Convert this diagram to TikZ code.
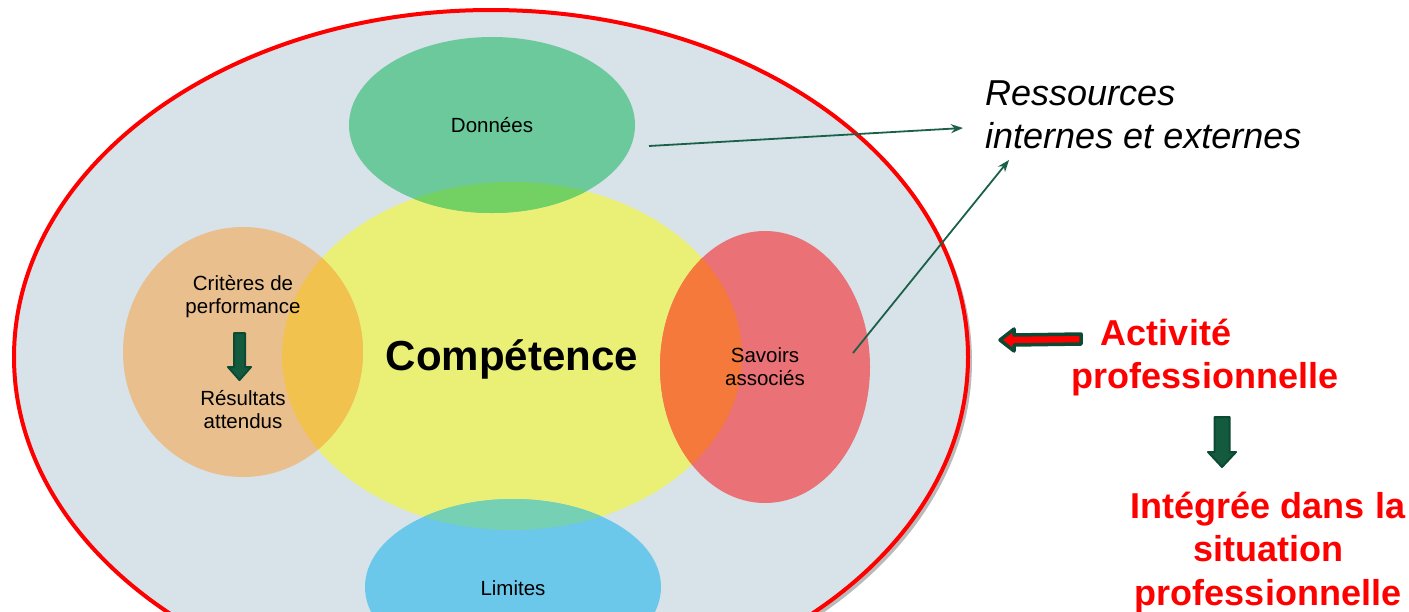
\documentclass[tikz,border=0pt]{standalone}
\usepackage{fontspec}
\setmainfont{Liberation Sans}
\usetikzlibrary{shadows,arrows.meta}
\definecolor{bgell}{HTML}{D7E2E9}
\definecolor{cdon}{HTML}{6BC99C}
\definecolor{cyel}{HTML}{EAEF76}
\definecolor{cora}{HTML}{EABF8E}
\definecolor{cpink}{HTML}{EA7175}
\definecolor{cblue}{HTML}{6CC8EA}
\definecolor{ovdon}{HTML}{73D063}
\definecolor{ovora}{HTML}{F2C24F}
\definecolor{ovsav}{HTML}{F4793A}
\definecolor{ovlim}{HTML}{76D0B3}
\definecolor{redline}{HTML}{FF0000}
\definecolor{conncol}{HTML}{1B6149}
\definecolor{darkgreen}{HTML}{0C4A33}
\definecolor{midgreen}{HTML}{145A3E}
\definecolor{redtext}{HTML}{FF0000}
\tikzset{
  small/.style={font=\fontsize{20.5}{22.5}\selectfont, align=center, inner sep=0pt},
  big/.style={font=\fontsize{42}{50}\selectfont\bfseries, inner sep=0pt},
  res/.style={font=\fontsize{36}{43}\selectfont\itshape, align=left, inner sep=0pt},
  redlab/.style={font=\fontsize{36}{43}\selectfont\bfseries, text=redtext, inner sep=0pt},
  conn/.style={draw=conncol, line width=1.8pt, -{Stealth[length=12pt,width=9pt]}},
  blockred/.style={draw=darkgreen, line width=3.5pt, fill=redline, line join=round},
  blockgreen/.style={draw=darkgreen, line width=2pt, fill=midgreen, line join=round},
}
\begin{document}
\begin{tikzpicture}[x=1pt,y=-1pt]
\useasboundingbox (0,0) rectangle (1409,611);
% outer ellipse
\fill[bgell, drop shadow={shadow xshift=4pt, shadow yshift=-4pt, opacity=0.45, fill=black!60}]
  (491,357) ellipse [x radius=477pt, y radius=347pt];
\draw[redline, line width=4pt] (491,357) ellipse [x radius=477pt, y radius=347pt];
% inner ellipses
\fill[cyel] (512,356) ellipse [x radius=230pt, y radius=174pt];
\fill[cdon] (492,125) ellipse [x radius=143pt, y radius=88pt];
\fill[cora] (243,352) ellipse [x radius=120pt, y radius=125pt];
\fill[cpink] (765,367) ellipse [x radius=105pt, y radius=136pt];
\fill[cblue] (513,587) ellipse [x radius=148pt, y radius=88pt];
% overlaps
\begin{scope}
  \clip (512,356) ellipse [x radius=230pt, y radius=174pt];
  \fill[ovdon] (492,125) ellipse [x radius=143pt, y radius=88pt];
  \fill[ovora] (243,352) ellipse [x radius=120pt, y radius=125pt];
  \fill[ovsav] (765,367) ellipse [x radius=105pt, y radius=136pt];
  \fill[ovlim] (513,587) ellipse [x radius=148pt, y radius=88pt];
\end{scope}
% texts (anchor=base = baseline of last line)
\node[small, anchor=base] (don) at (492,132) {Données};
\node[small, anchor=base] (lim) at (513,595) {Limites};
\node[small, anchor=base] (sav) at (765,385) {Savoirs\\associés};
\node[small, anchor=base] (cri) at (243,313) {Critères de\\performance};
\node[small, anchor=base] (resu) at (243,428) {Résultats\\attendus};
\node[big, anchor=base] (comp) at (512,370) {Compétence};
\node[res, anchor=base west] (ress) at (985,148) {Ressources\\internes et externes};
\node[redlab, anchor=base] (act) at (1166,345) {Activité};
\node[redlab, anchor=base] (actb) at (1205,388) {professionnelle};
\node[redlab, anchor=base, align=center, font=\fontsize{36}{43.5}\selectfont\bfseries] (integ) at (1268,605) {Intégrée dans la\\situation\\professionnelle};
% connectors
\coordinate (donA) at (649,146);
\coordinate (resA) at (963,128);
\coordinate (savA) at (853,353);
\coordinate (resB) at (1009,160);
\draw[conn] (donA) -- (resA);
\draw[conn] (savA) -- (resB);
% block arrows
\draw[blockred] (1000,340) -- (1014,329) -- (1014,335) -- (1081,334) -- (1081,344) -- (1014,345) -- (1014,351) -- cycle;
\draw[blockgreen] (1214.5,417) -- (1229.5,417) -- (1229.5,452) -- (1236,452) -- (1222,467) -- (1208,452) -- (1214.5,452) -- cycle;
\draw[blockgreen] (234,333) -- (245,333) -- (245,367) -- (251,367) -- (239.5,380) -- (228,367) -- (234,367) -- cycle;
\end{tikzpicture}
\end{document}
